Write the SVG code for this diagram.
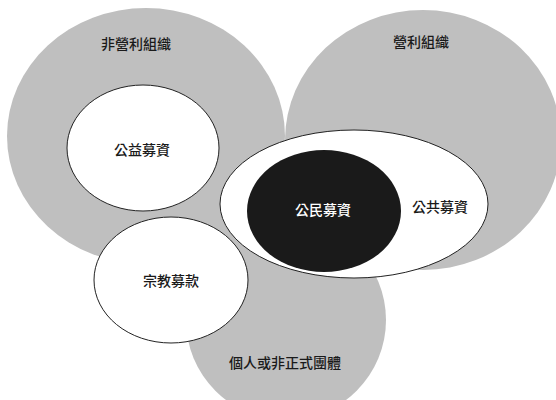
<svg xmlns="http://www.w3.org/2000/svg" width="556" height="400" viewBox="0 0 556 400">
<style>
.area{fill:#bfbfbf;stroke:none}
.sub{fill:#ffffff;stroke:#222222;stroke-width:1}
.core{fill:#1a1a1a;stroke:none}
text{font-family:"Noto Sans CJK TC","Noto Sans CJK SC",sans-serif;font-size:14px;font-weight:500;text-anchor:middle;dominant-baseline:central;fill:#1a1a1a}
.inv{fill:#ffffff}
</style>
<rect width="556" height="400" fill="#ffffff"/>
<g id="nonprofit">
<ellipse class="area" cx="146" cy="136" rx="139" ry="128"/>
</g>
<g id="forprofit">
<ellipse class="area" cx="423" cy="140" rx="138" ry="130"/>
</g>
<g id="informal">
<circle class="area" cx="286" cy="320" r="100"/>
</g>
<g id="labels-areas">
<text x="136" y="43">非營利組織</text>
<text x="421" y="41">營利組織</text>
<text x="285" y="362">個人或非正式團體</text>
</g>
<g id="public-interest">
<ellipse class="sub" cx="143" cy="148" rx="76" ry="63"/>
<text x="142" y="149">公益募資</text>
</g>
<g id="public-fundraising">
<ellipse class="sub" cx="354" cy="204" rx="134" ry="74"/>
<text x="440" y="206">公共募資</text>
</g>
<g id="religious">
<ellipse class="sub" cx="171" cy="280" rx="77" ry="63"/>
<text x="171" y="280">宗教募款</text>
</g>
<g id="civic">
<ellipse class="core" cx="324" cy="211" rx="77" ry="61"/>
<text class="inv" x="323" y="209">公民募資</text>
</g>
<g id="connectors"></g>
</svg>
